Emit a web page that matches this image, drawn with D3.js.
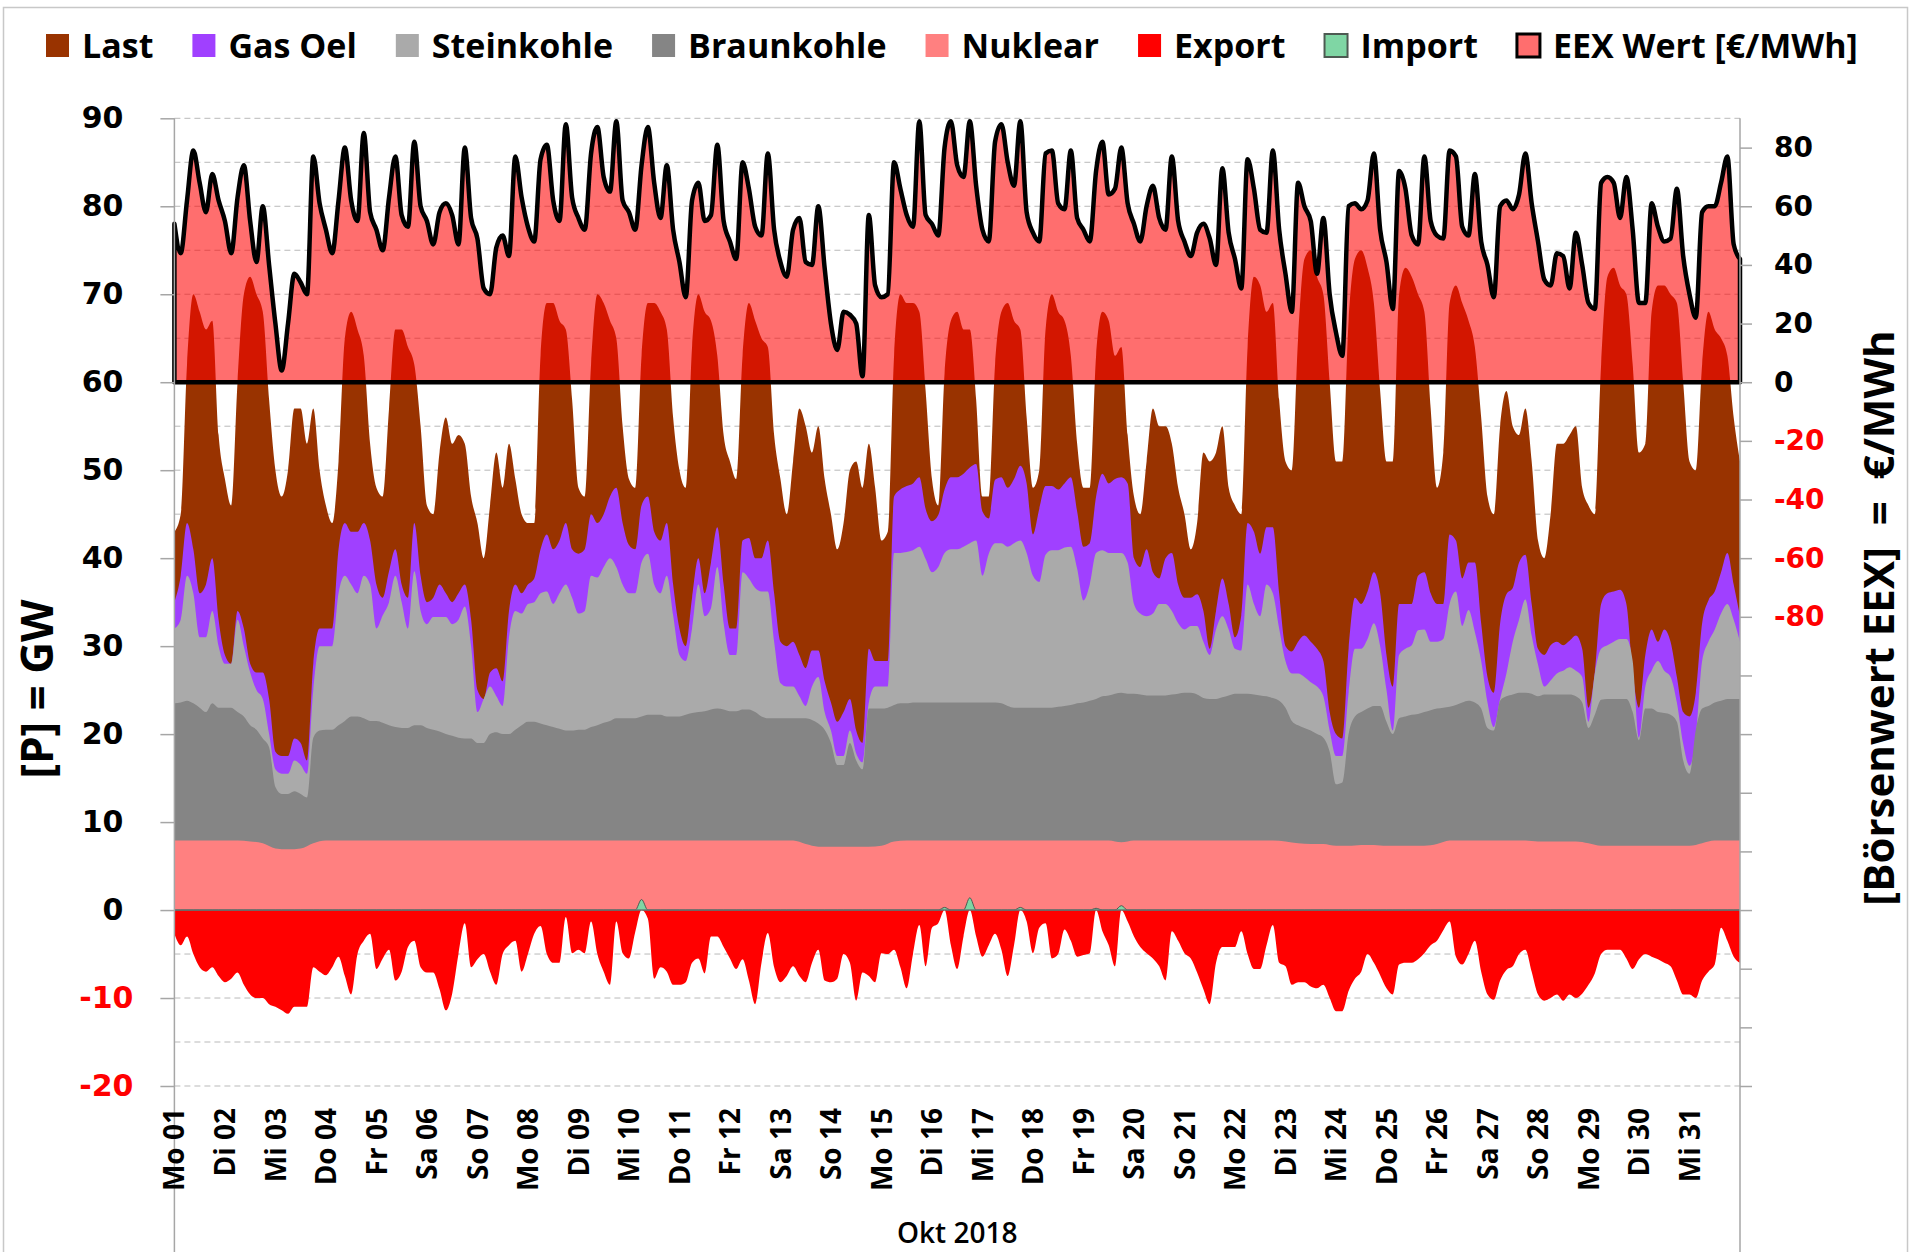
<!DOCTYPE html>
<html>
<head>
<meta charset="utf-8">
<script src="https://d3js.org/d3.v7.min.js"></script>
<style>
  body { margin: 0; background: #fff; }
  text { font-family: "DejaVu Sans", sans-serif; }
</style>
</head>
<body>
<svg id="chart" width="1912" height="1252"></svg>
<script>
// Oktober 2018, Werte alle 3 Stunden (0,3,...,21 Uhr), letzter Wert = 01.11. 0 Uhr
// Leistung in GW (Oberkante der jeweiligen Flaeche), Preis in EUR/MWh
var tage = ["Mo 01","Di 02","Mi 03","Do 04","Fr 05","Sa 06","So 07","Mo 08","Di 09","Mi 10",
  "Do 11","Fr 12","Sa 13","So 14","Mo 15","Di 16","Mi 17","Do 18","Fr 19","Sa 20","So 21",
  "Mo 22","Di 23","Mi 24","Do 25","Fr 26","Sa 27","So 28","Mo 29","Di 30","Mi 31"];
var monat = "Okt 2018";

var last = [
43,45,62,70,68,66,67,54,
49,46,60,70,72,70,68,58,
50,47,50,57,57,53,57,50,
46,44,51,65,68,66,63,53,
48,47,57,66,66,64,62,55,
46,45,52,56,53,54,53,47,
44,40,46,52,48,53,49,45,
44,44,63,69,69,67,66,58,
48,47,62,70,69,67,65,55,
49,48,63,69,69,68,66,56,
50,48,64,70,68,67,63,54,
51,49,63,69,67,65,64,54,
49,45,51,57,55,52,55,49,
45,41,44,50,51,48,53,48,
42,43,63,70,69,69,68,59,
49,46,61,67,68,66,66,58,
47,47,62,68,69,67,66,56,
48,50,66,70,68,67,63,53,
48,48,63,68,67,63,64,54,
47,45,51,57,55,55,53,48,
45,41,44,52,51,52,55,48,
46,45,64,72,71,68,69,58,
51,50,65,74,75,72,70,60,
51,51,67,74,75,73,69,59,
51,51,70,73,72,70,68,57,
48,52,69,71,69,67,64,56,
47,45,55,59,55,54,57,51,
42,40,45,53,53,54,55,48,
46,45,62,72,73,71,70,62,
52,53,68,71,71,70,69,60,
51,50,62,68,66,65,63,56,
51];

var gasOel = [
35,38,44,41,36,37,40,33,
29,28,34,32,28,27,27,24,
18,17.5,17.5,19.5,19,17,28,32,
32,32,41,44,43,43,44,42,
37,35.5,38.5,41,37,35.5,44,38,
35,35.5,37,36,35,36,37,33,
25,24,27,27.5,26,34,37,36,
37,37.7,41,42.7,41,42,44,41,
40.5,41,45,44,45,47,48,44,
41.5,41,46,47,43,42,44,37,
32,30,35.5,40,36,39.5,43.5,37,
32,32,42,42.3,40,40,42,36,
30.5,30,30.5,29,27.5,29.5,29.5,26,
23.6,21.4,22.5,24,20.4,19,29.7,28.3,
28.3,28.3,47,47.8,48.2,48.5,49.2,45.6,
44.2,44.9,47.8,49.2,49.2,49.6,50.3,50.7,
45.3,44.5,48.9,49.2,48,49,50.5,48.5,
42.7,45.6,48.2,48.2,47.8,48.5,49.2,45.3,
41.3,41.7,47,49.6,48.5,49,49.2,48.5,
40,39,41,38.4,37.7,40,40.6,37,
35.5,35.5,35.9,34,29.7,34,37.7,34.8,
31,33.5,44,43,40.5,43.5,43.5,36,
30,29.4,30.5,31.2,30.5,29.7,28.3,22.5,
20,19.5,29.7,35.5,34.8,36.2,38.4,36,
29,25.4,34.8,34.8,34.8,38,38.4,36,
34.8,34.8,42.7,42,37.7,39.5,39.5,32.6,
26.5,24.7,32.6,35.9,36.6,39.5,40.4,34.8,
29.7,29,30.1,30.5,30.1,30.6,31.2,29.7,
23,27,34.8,36,36.2,36.4,34.8,27,
23,29,31.9,30.5,31.9,30.5,26.5,22.5,
22,24.7,32.6,35.2,36.2,38.4,40.6,37,
33.4];

var steinkohle = [
32,33,38,36,31,31,34,30,
28,28,33,30,27,25,24,20,
16,15.5,15.5,17,16.5,15.5,25,30,
30,30,36,38,37,36,38,37,
32,33.5,35,38,35,32,38.5,34,
32.5,33.3,33.3,33.3,32.5,33,34.5,30,
22.5,24,25.4,24.3,23.2,31,34,33.7,
34.8,35,36,36.2,34.8,36,37,35.5,
33.7,34,38,37.8,39,40,39,37,
36,36,39.5,40.5,37,36,38,33.5,
29,28.3,32,37,33.4,34.3,39,32.6,
29,29,38.4,37.7,36.6,36.2,36.2,30.5,
25.8,25.4,25.4,24.3,23.2,25.4,26.5,22.5,
20.4,17.5,17.5,20.4,17.8,16.8,23.6,25.4,
25.4,25.4,40.6,40.6,40.7,40.9,41.3,39.9,
38.4,39,40.6,41,41,41.3,41.7,42,
38,40.5,41.7,41.7,41.3,41.7,42,40.6,
38,37.3,40.4,40.9,40.9,41.2,41.3,38.8,
35.2,37,40.6,40.9,40.6,40.6,40.6,39.5,
34.8,33.7,33.4,33.7,34.8,34.8,34,32.6,
31.9,32.3,32.3,30.5,29,31.9,33.4,31.9,
29.7,29.5,37,34.8,33.4,37,36,32,
28.3,26.9,26.9,26.5,25.9,25.4,24.3,20.4,
17.5,17.5,24.7,29.7,29.7,30.8,32.6,30,
25,20.4,29,29.7,30.1,31.8,31.9,30.5,
30.5,30.8,34.8,36.2,32.3,34.1,31.6,28.3,
23.6,20.8,24,26.9,30.5,33,35.3,31.2,
27.9,25.4,26.1,26.9,27.2,27.6,27.2,26.5,
21.4,26.9,29.7,30.1,30.5,30.8,30.8,28.3,
19.6,25.4,27.2,28.3,27.2,26.5,23.6,18.9,
16.4,19.6,28.3,30.5,31.9,33.7,34.8,33,
30.5];

var braunkohle = [
23.5,23.6,23.8,23.5,23,22.5,23.5,23,
23,23,22.5,22,21,20.5,19.5,18.5,
14,13.2,13.2,13.5,13.2,12.8,19.6,20.4,
20.5,20.5,21,21.5,22,22,21.8,21.5,
21.5,21.3,21,20.8,20.7,20.7,21,21,
20.7,20.5,20.3,20,19.8,19.6,19.5,19.5,
19,19,20,20.2,20,20,20.5,21,
21.4,21.4,21.2,21,20.8,20.6,20.4,20.4,
20.5,20.5,20.8,21,21.3,21.5,21.8,21.8,
21.8,21.8,22,22.2,22.2,22.2,22,22,
22,22.2,22.4,22.5,22.6,22.8,22.9,22.8,
22.6,22.6,22.8,22.8,22.5,22,21.8,21.8,
21.8,21.8,21.8,21.8,21.8,21.6,21.2,20.5,
19,16.5,16.5,19,17,16,22.9,22.9,
22.9,23,23.3,23.5,23.5,23.6,23.6,23.6,
23.6,23.6,23.6,23.6,23.6,23.6,23.6,23.6,
23.6,23.6,23.6,23.5,23.2,23,23,23,
23,23,23,23,23.1,23.2,23.3,23.5,
23.6,23.8,24,24.3,24.4,24.6,24.7,24.6,
24.6,24.5,24.4,24.4,24.4,24.4,24.5,24.6,
24.7,24.7,24.5,24.1,24,24,24.2,24.4,
24.6,24.6,24.6,24.5,24.4,24.3,24.1,23.8,
23,21.5,21,20.7,20.4,20,19.6,18,
14.3,14.5,20,22,22.5,22.9,23.2,23.2,
21.4,20,21.8,22,22.2,22.3,22.5,22.7,
22.9,23,23.1,23.3,23.6,23.8,23.6,22.9,
20.7,20.4,23.8,24.3,24.5,24.7,24.7,24.6,
24.3,24.5,24.5,24.5,24.5,24.5,24.3,23.6,
20.7,22.2,23.9,24,24,24,24,22.5,
19.3,22.9,22.9,22.5,22.4,22.2,21.4,17,
15.5,20.5,22.9,23.2,23.6,23.8,24,24,
24];

// Nuklear: Werte alle 6 Stunden
var nuklear = [
7.9,7.9,7.9,7.9, 7.9,7.9,7.8,7.6, 7.0,6.9,7.0,7.6, 7.9,7.9,7.9,7.9,
7.9,7.9,7.9,7.9, 7.9,7.9,7.9,7.9, 7.9,7.9,7.9,7.9, 7.9,7.9,7.9,7.9,
7.9,7.9,7.9,7.9, 7.9,7.9,7.9,7.9, 7.9,7.9,7.9,7.9, 7.9,7.9,7.9,7.9,
7.9,7.9,7.5,7.2, 7.2,7.2,7.2,7.2, 7.3,7.8,7.9,7.9, 7.9,7.9,7.9,7.9,
7.9,7.9,7.9,7.9, 7.9,7.9,7.9,7.9, 7.9,7.9,7.9,7.7, 7.9,7.9,7.9,7.9,
7.9,7.9,7.9,7.9, 7.9,7.9,7.9,7.9, 7.8,7.6,7.5,7.5, 7.3,7.3,7.4,7.4,
7.3,7.3,7.3,7.3, 7.5,7.9,7.9,7.9, 7.9,7.9,7.9,7.9, 7.8,7.8,7.8,7.8,
7.6,7.3,7.3,7.3, 7.3,7.3,7.3,7.3, 7.3,7.6,7.9,7.9,
7.9];

var export_ = [
-2.7,-4,-3,-5,-6.5,-7,-6.5,-7.5,
-8.2,-7.8,-7.1,-8.5,-9.6,-10,-10,-10.7,
-11,-11.4,-11.8,-11,-11,-11,-6.5,-7,
-7.4,-6.5,-5.3,-7.5,-9.6,-5,-3.5,-2.7,
-6.7,-5.5,-4.5,-8,-7,-4.2,-3.5,-6.5,
-7.1,-7.1,-9,-11.4,-9.5,-5,-1.5,-6.5,
-5.6,-5,-7,-8.5,-5,-4,-3.5,-7,
-5,-2.7,-1.8,-5,-6,-6,-0.8,-4.9,
-4.5,-4.9,-1.3,-5,-7,-8.5,-1.3,-4.9,
-5.5,-2.5,0,-1,-7.8,-6.5,-7,-8.5,
-8.5,-8.2,-6,-5.5,-7.2,-3,-3,-4.2,
-5.5,-6.7,-5.6,-8,-10.7,-6,-2.6,-6.5,
-8.2,-7.5,-6.4,-7.5,-8.2,-6,-4.5,-8,
-8.2,-7.8,-5,-6,-10.3,-7.1,-7.5,-8.2,
-4.9,-5,-4.5,-6.5,-8.9,-5,-1.7,-6.4,
-2,-1.5,0,-4,-6.7,-3,0,-3,
-5.3,-4,-2.7,-4.5,-7.5,-4,0,-1.3,
-4.9,-2,-1.5,-5.5,-5,-2.2,-3.5,-5.3,
-5.1,-4.9,0,-2.4,-4,-6.4,0,-1.3,
-3,-4.2,-4.9,-5.5,-6.4,-8,-2.4,-3.5,
-4.9,-5.5,-7.1,-9,-10.7,-6,-4.2,-4.2,
-4.2,-2.4,-5,-6.7,-6.7,-4,-1.7,-6,
-6.4,-8.5,-8.2,-8.2,-8.7,-8.9,-8.5,-10,
-11.5,-11.5,-9.2,-7.8,-7,-5,-6,-7.4,
-8.9,-9.6,-6.2,-6,-6,-5.6,-4.9,-4,
-3.5,-2.3,-1.3,-5.3,-6.2,-5,-3.5,-7,
-9.6,-10.2,-8,-6.8,-6.4,-5,-4.5,-7,
-9.6,-10.3,-10,-9.6,-10.3,-9.6,-10,-9.5,
-8.5,-7.2,-5,-4.5,-4.5,-4.5,-5.5,-6.7,
-5.6,-5,-5.3,-5.6,-6,-6.4,-8,-9.6,
-9.6,-10,-8,-7,-6.2,-2,-3.5,-5.3,
-6];

var import_ = [
0,0,0,0,0,0,0,0, 0,0,0,0,0,0,0,0, 0,0,0,0,0,0,0,0, 0,0,0,0,0,0,0,0,
0,0,0,0,0,0,0,0, 0,0,0,0,0,0,0,0, 0,0,0,0,0,0,0,0, 0,0,0,0,0,0,0,0,
0,0,0,0,0,0,0,0, 0,0,1.2,0,0,0,0,0, 0,0,0,0,0,0,0,0, 0,0,0,0,0,0,0,0,
0,0,0,0,0,0,0,0, 0,0,0,0,0,0,0,0, 0,0,0,0,0,0,0,0, 0,0,0.3,0,0,0,1.4,0,
0,0,0,0,0,0,0.3,0, 0,0,0,0,0,0,0,0, 0,0,0.2,0,0,0,0.5,0, 0,0,0,0,0,0,0,0,
0,0,0,0,0,0,0,0, 0,0,0,0,0,0,0,0, 0,0,0,0,0,0,0,0, 0,0,0,0,0,0,0,0,
0,0,0,0,0,0,0,0, 0,0,0,0,0,0,0,0, 0,0,0,0,0,0,0,0, 0,0,0,0,0,0,0,0,
0,0,0,0,0,0,0,0, 0,0,0,0,0,0,0,0, 0,0,0,0,0,0,0,0,
0];

var eexPreis = [
54,44,62,79,68,58,71,62,
55,44,63,74,55,41,60,40,
20,4,20,37,34,30,77,61,
52,44,62,80,62,55,85,58,
52,45,63,77,57,53,82,60,
55,47,58,61,57,47,80,56,
49,32,30,46,50,43,77,63,
53,48,76,81,62,55,88,63,
56,52,78,87,70,65,89,62,
58,52,74,87,68,56,74,52,
41,29,62,68,55,57,81,55,
48,42,75,66,53,50,78,52,
41,36,52,56,41,40,60,39,
20,11,24,23,20,2,57,33,
29,30,75,66,57,53,89,57,
54,50,80,89,74,70,89,67,
52,48,82,88,75,67,89,58,
51,48,78,79,61,59,79,56,
52,48,72,82,64,66,80,61,
54,48,60,67,56,52,77,55,
48,43,51,54,49,40,73,51,
42,32,76,66,52,51,79,52,
37,24,68,60,55,37,56,30,
17,9,60,61,59,62,78,52,
41,25,72,66,50,47,77,55,
50,49,79,77,53,50,71,48,
40,29,60,62,59,64,78,61,
48,35,33,44,43,32,51,40,
27,25,68,70,68,56,70,52,
27,27,61,53,48,49,66,43,
30,22,58,60,60,68,77,47,
42];

var ticksLinks = [-20,-10,0,10,20,30,40,50,60,70,80,90];
var ticksRechts = [-240,-220,-200,-180,-160,-140,-120,-100,-80,-60,-40,-20,0,20,40,60,80];
var legende = ["Last","Gas Oel","Steinkohle","Braunkohle","Nuklear","Export","Import","EEX Wert [€/MWh]"];

var farbe = {
  "Last": "#993300", "Gas Oel": "#a040ff", "Steinkohle": "#aaaaaa", "Braunkohle": "#858585",
  "Nuklear": "#ff8080", "Export": "#ff0000", "Import": "#7fd6a4", "EEX Wert [€/MWh]": "#ff6e6e"
};

var svg = d3.select("#chart");
var pLinks = 174.4, pRechts = 1740, pOben = 118.3, pUnten = 1086;

var x = d3.scaleLinear().domain([0, 744]).range([pLinks, pRechts]);
var y = d3.scaleLinear().domain([-20, 90]).range([pUnten, pOben]);
var yR = d3.scaleLinear().domain([-240, 90]).range([pUnten, pOben]);

function punkte(werte, schritt) {
  return werte.map(function (v, i) { return { t: i * schritt, v: v }; });
}

// Rahmen
svg.append("rect").attr("x", 3.5).attr("y", 7.5).attr("width", 1904).attr("height", 1260)
  .attr("fill", "none").attr("stroke", "#c8c8c8").attr("stroke-width", 1.5);

// Gitter alle 5 GW
svg.append("g").selectAll("line")
  .data(d3.range(-20, 91, 5).filter(function (d) { return d !== 0 && d !== 60; }))
  .enter().append("line")
  .attr("x1", pLinks).attr("x2", pRechts)
  .attr("y1", function (d) { return y(d); }).attr("y2", function (d) { return y(d); })
  .attr("stroke", "#b9b9b9").attr("stroke-width", 1).attr("stroke-dasharray", "6,4");

var flaeche = d3.area()
  .x(function (d) { return x(d.t); })
  .y0(y(0))
  .y1(function (d) { return y(d.v); })
  .curve(d3.curveMonotoneX);

var lagen = [
  { name: "Last", werte: last, schritt: 3 },
  { name: "Gas Oel", werte: gasOel, schritt: 3 },
  { name: "Steinkohle", werte: steinkohle, schritt: 3 },
  { name: "Braunkohle", werte: braunkohle, schritt: 3 },
  { name: "Nuklear", werte: nuklear, schritt: 6 },
  { name: "Export", werte: export_, schritt: 3 }
];
lagen.forEach(function (l) {
  svg.append("path").datum(punkte(l.werte, l.schritt))
    .attr("d", flaeche).attr("fill", farbe[l.name]);
});

svg.append("path").datum(punkte(import_, 3))
  .attr("d", flaeche).attr("fill", farbe["Import"])
  .attr("stroke", "#4d5a52").attr("stroke-width", 1);

// Nulllinie GW
svg.append("line").attr("x1", pLinks).attr("x2", pRechts).attr("y1", y(0)).attr("y2", y(0))
  .attr("stroke", "#6f8080").attr("stroke-width", 1);

// Boersenpreis (rechte Achse)
var preisFlaeche = d3.area()
  .x(function (d) { return x(d.t); })
  .y0(yR(0))
  .y1(function (d) { return yR(d.v); })
  .curve(d3.curveMonotoneX);

var preisDaten = punkte(eexPreis, 3);
svg.append("path").datum(preisDaten)
  .attr("d", preisFlaeche)
  .attr("fill", "#ff0000").attr("fill-opacity", 0.57)
  .attr("stroke", "none");
svg.append("path")
  .attr("d", preisFlaeche.lineY1()(preisDaten) + "L" + x(744) + "," + yR(0) + "L" + x(0) + "," + yR(0) + "Z")
  .attr("fill", "none").attr("stroke", "#000").attr("stroke-width", 4.5).attr("stroke-linejoin", "round");

// Achsen
var achsGrau = "#a6a6a6";
svg.append("line").attr("x1", pLinks).attr("x2", pLinks).attr("y1", pOben).attr("y2", 1252)
  .attr("stroke", achsGrau).attr("stroke-width", 1.5);
svg.append("line").attr("x1", pRechts).attr("x2", pRechts).attr("y1", pOben).attr("y2", 1252)
  .attr("stroke", achsGrau).attr("stroke-width", 1.5);

var achseL = svg.append("g").attr("transform", "translate(" + pLinks + ",0)")
  .call(d3.axisLeft(y).tickValues(ticksLinks).tickSize(14).tickSizeOuter(0).tickPadding(37)
    .tickFormat(function (d) { return String(d); }));
achseL.select(".domain").remove();
achseL.selectAll(".tick line").attr("stroke", achsGrau).attr("stroke-width", 1.5);
achseL.selectAll(".tick text")
  .style("font-family", "'DejaVu Sans', sans-serif").style("font-weight", "bold").style("font-size", "30px")
  .attr("fill", function (d) { return d < 0 ? "#ff0000" : "#000"; })
  .attr("dx", function (d) { return d < 0 ? 10 : 0; });

var achseR = svg.append("g").attr("transform", "translate(" + pRechts + ",0)")
  .call(d3.axisRight(yR).tickValues(ticksRechts).tickSize(12).tickSizeOuter(0).tickPadding(22)
    .tickFormat(function (d) { return d >= -80 ? String(d) : ""; }));
achseR.select(".domain").remove();
achseR.selectAll(".tick line").attr("stroke", achsGrau).attr("stroke-width", 1.5);
achseR.selectAll(".tick text")
  .style("font-family", "'DejaVu Sans', sans-serif").style("font-weight", "bold").style("font-size", "28px")
  .attr("fill", function (d) { return d < 0 ? "#ff0000" : "#000"; });

// Tagesbeschriftung
svg.append("g").selectAll("text").data(tage).enter().append("text")
  .attr("transform", function (d, i) { return "translate(" + x(i * 24) + ",1108) rotate(-90)"; })
  .attr("text-anchor", "end").attr("dy", "0.36em")
  .style("font-family", "'Open Sans', sans-serif")
  .style("font-weight", 700).style("font-size", "28px")
  .text(function (d) { return d; });

svg.append("text").attr("x", (pLinks + pRechts) / 2).attr("y", 1243).attr("text-anchor", "middle")
  .style("font-family", "'Open Sans', sans-serif").style("font-weight", 600).style("font-size", "28px")
  .text(monat);

// Achsentitel
svg.append("text").attr("transform", "translate(37,689) rotate(-90)")
  .attr("text-anchor", "middle").attr("dy", "0.36em")
  .style("font-family", "'Open Sans', sans-serif").style("font-weight", 700).style("font-size", "44px")
  .text("[P] = GW");
svg.append("text").attr("transform", "translate(1881,618) rotate(-90)")
  .attr("text-anchor", "middle").attr("dy", "0.3em")
  .style("font-family", "'Open Sans', sans-serif").style("font-weight", 700).style("font-size", "42px")
  .style("white-space", "pre")
  .text("[Börsenwert EEX]  =  €/MWh");

// Legende
var lx = 46;
legende.forEach(function (name) {
  var g = svg.append("g");
  var sw = g.append("rect").attr("x", lx).attr("y", 34).attr("width", 23).attr("height", 23)
    .attr("fill", farbe[name]);
  if (name === "Import") sw.attr("stroke", "#4d5a52").attr("stroke-width", 2);
  if (name.indexOf("EEX") === 0) sw.attr("stroke", "#000").attr("stroke-width", 3);
  var t = g.append("text").attr("x", lx + 36).attr("y", 58)
    .style("font-family", "'Open Sans', sans-serif").style("font-weight", 700).style("font-size", "34px")
    .text(name);
  lx = lx + 36 + t.node().getComputedTextLength() + 39;
});
</script>
</body>
</html>
